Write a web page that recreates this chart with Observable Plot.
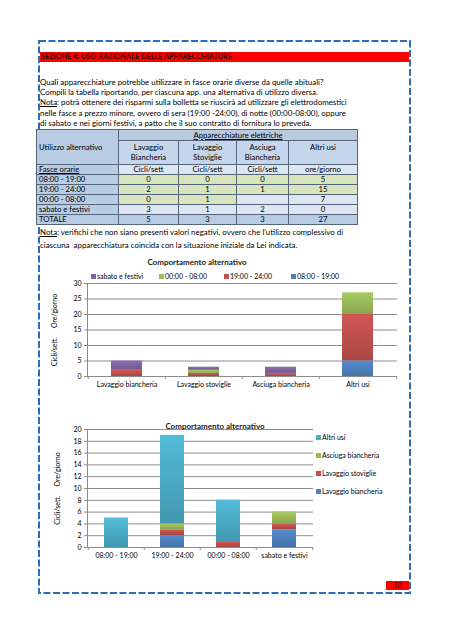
<!DOCTYPE html>
<html><head><meta charset="utf-8">
<script src="https://cdn.jsdelivr.net/npm/d3@7"></script>
<script src="https://cdn.jsdelivr.net/npm/@observablehq/plot@0.6"></script>
<style>
body{margin:0;background:#fff;width:453px;height:638px;position:relative;overflow:hidden;font-family:Lato,"Open Sans",sans-serif;color:#000}
.abs{position:absolute;white-space:nowrap}
.t{font-size:7.9px;line-height:10px}
table.tb{position:absolute;left:36px;top:129px;width:321px;border-collapse:collapse;table-layout:fixed;font-size:7.7px;border:1.5px solid #3a78c2}
table.tb td{border:1px solid #55657a;padding:0 2px;height:9px;line-height:9px;text-align:center;white-space:nowrap;overflow:hidden}
table.tb td.l{text-align:left}
.ttl{font-size:8px;font-weight:bold;color:#222}
.lg{font-size:7px;line-height:8px;display:flex;align-items:center}
.lg i{display:inline-block;width:5px;height:5px;margin-right:1px}
</style></head>
<body>
<svg class="abs" style="left:0;top:0" width="453" height="638">
<rect x="39" y="41" width="371" height="552" fill="none" stroke="#2e6db4" stroke-width="2" stroke-dasharray="7,2.5"/>
</svg>
<div class="abs" style="left:40px;top:52px;width:369px;height:10px;background:#ff0000"></div>
<div class="abs" style="left:41px;top:52px;font-size:7.3px;line-height:10px;font-weight:bold;color:#3b0000">SEZIONE 4: USO RAZIONALE DELLE APPARECCHIATURE</div>
<div class="abs t" style="left:40px;top:77px">Quali apparecchiature potrebbe utilizzare in fasce orarie diverse da quelle abituali?</div>
<div class="abs t" style="left:40px;top:87px">Compili la tabella riportando, per ciascuna app. una alternativa di utilizzo diversa.</div>
<div class="abs t" style="left:40px;top:97px"><u>Nota</u>: potrà ottenere dei risparmi sulla bolletta se riuscirà ad utilizzare gli elettrodomestici</div>
<div class="abs t" style="left:40px;top:108px">nelle fasce a prezzo minore, ovvero di sera (19:00 -24:00), di notte (00:00-08:00), oppure</div>
<div class="abs t" style="left:40px;top:118px">di sabato e nei giorni festivi, a patto che il suo contratto di fornitura lo preveda.</div>
<div id="tablewrap"></div>
<div class="abs t" style="left:40px;top:227px"><u>Nota</u>: verifichi che non siano presenti valori negativi, ovvero che l'utilizzo complessivo di</div>
<div class="abs t" style="left:40px;top:240px">ciascuna&nbsp; apparecchiatura coincida con la situazione iniziale da Lei indicata.</div>

<div class="abs ttl" style="left:197px;top:257px;transform:translateX(-50%)">Comportamento alternativo</div>
<div id="leg1"></div>
<div id="c1" class="abs" style="left:40px;top:255px"></div>

<div id="c2" class="abs" style="left:40px;top:420px"></div>
<div class="abs ttl" style="left:215px;top:421px;transform:translateX(-50%)">Comportamento alternativo</div>
<div id="leg2"></div>

<div class="abs" style="left:386px;top:581px;width:23px;height:9px;background:#ff0000;font-size:7px;line-height:9px;text-align:center;color:#400">10</div>

<script>
// ---- data ----
const appliances = ["Lavaggio biancheria", "Lavaggio stoviglie", "Asciuga biancheria", "Altri usi"];
const applianceHeaders = ["Lavaggio<br>Biancheria", "Lavaggio<br>Stoviglie", "Asciuga<br>Biancheria", "Altri usi"];
const units = ["Cicli/sett", "Cicli/sett", "Cicli/sett", "ore/giorno"];
const slots = ["08:00 - 19:00", "19:00 - 24:00", "00:00 - 08:00", "sabato e festivi"];
// values per time slot (same order as slots)
const lavaggioBiancheria = [0, 2, 0, 3];
const lavaggioStoviglie = [0, 1, 1, 1];
const asciugaBiancheria = [0, 1, null, 2];
const altriUsi = [5, 15, 7, 0];
const totals = [5, 3, 3, 27];
const yTicks1 = [0, 5, 10, 15, 20, 25, 30];
const yTicks2 = [0, 2, 4, 6, 8, 10, 12, 14, 16, 18, 20];
const slotColors = ["#4f81bd", "#c0504d", "#9bbb59", "#8064a2"];
const applianceColors = ["#4f81bd", "#c0504d", "#9bbb59", "#4bacc6"];
const yTitle = "Cicli/sett.\u00a0\u00a0\u00a0\u00a0\u00a0Ore/giorno";

const series = [lavaggioBiancheria, lavaggioStoviglie, asciugaBiancheria, altriUsi];

// ---- table ----
const olive = "#d7e4bd", light = "#dce6f1", mid = "#b8cce4";
const cellBg = (r, c) => (r < 2 ? olive : r === 2 ? (c < 2 ? olive : light) : light);
let h = `<table class="tb"><colgroup><col style="width:82px"><col style="width:60px"><col style="width:58px"><col style="width:52px"><col style="width:69px"></colgroup>`;
h += `<tr style="height:11px"><td class="l" rowspan="2" style="background:${mid}">Utilizzo alternativo</td><td colspan="4" style="background:#b9c9de"><u>Apparecchiature elettriche</u></td></tr>`;
h += `<tr style="height:23px">` + applianceHeaders.map(a => `<td style="background:#c5d6ec;line-height:10px;height:22px;vertical-align:top;padding-top:1px">${a}</td>`).join("") + `</tr>`;
h += `<tr><td class="l" style="background:${mid}"><u>Fasce orarie</u></td>` + units.map(u => `<td style="background:${light}">${u}</td>`).join("") + `</tr>`;
slots.forEach((s, r) => {
  h += `<tr><td class="l" style="background:${mid}">${s}</td>` +
    series.map((arr, c) => `<td style="background:${cellBg(r, c)}">${arr[r] == null ? "" : arr[r]}</td>`).join("") + `</tr>`;
});
h += `<tr><td class="l" style="background:${mid}">TOTALE</td>` + totals.map(t => `<td style="background:${mid}">${t}</td>`).join("") + `</tr></table>`;
document.getElementById("tablewrap").innerHTML = h;

// ---- gradients ----
function addGradients(svg, colors, prefix) {
  const ns = "http://www.w3.org/2000/svg";
  const defs = document.createElementNS(ns, "defs");
  colors.forEach((c, i) => {
    const g = document.createElementNS(ns, "linearGradient");
    g.setAttribute("id", prefix + i);
    g.setAttribute("x1", "0"); g.setAttribute("y1", "0"); g.setAttribute("x2", "0"); g.setAttribute("y2", "1");
    [[0, d3.color(c).brighter(0.25)], [1, d3.color(c).darker(0.35)]].forEach(([o, col]) => {
      const s = document.createElementNS(ns, "stop");
      s.setAttribute("offset", o); s.setAttribute("stop-color", col.formatHex());
      g.appendChild(s);
    });
    defs.appendChild(g);
  });
  svg.insertBefore(defs, svg.firstChild);
}
const fills1 = slotColors.map((c, i) => `url(#ga${i})`);
const fills2 = applianceColors.map((c, i) => `url(#gb${i})`);

const style = {fontFamily: "Lato, sans-serif", fontSize: "7px", color: "#000", background: "transparent", overflow: "visible"};
const gridColor = "#8c8c8c";

// ---- chart 1: by appliance, stacked by time slot ----
const data1 = appliances.flatMap((a, ai) => slots.map((s, si) => ({cat: a, series: s, value: series[ai][si] ?? 0})));
{
  const W = 365, ml = 47, mr = 8, n = appliances.length;
  const step = (W - ml - mr) / n;
  const p = Plot.plot({
    width: W, height: 140, marginLeft: ml, marginRight: mr, marginTop: 28, marginBottom: 19,
    style,
    x: {domain: appliances, paddingInner: 0.6, paddingOuter: 0.3, label: null},
    y: {domain: [0, 30], label: null},
    color: {domain: slots, range: fills1},
    marks: [
      Plot.gridY(yTicks1, {stroke: gridColor, strokeOpacity: 1}),
      Plot.barY(data1, {x: "cat", y: "value", fill: "series"}),
      Plot.ruleY([0], {stroke: gridColor}),
      Plot.frame({anchor: "left", stroke: gridColor}),
      Plot.axisY(yTicks1, {tickSize: 3, tickPadding: 3, stroke: gridColor, fill: "#000", label: yTitle, labelAnchor: "center", labelOffset: 35, labelArrow: "none"}),
      Plot.axisX({tickSize: 0, tickPadding: 6, fill: "#000"}),
      Plot.ruleX(appliances, {x: d => d, y1: 0, y2: 0, insetBottom: -3, dx: -step / 2, stroke: gridColor}),
      Plot.ruleX(appliances.slice(-1), {x: d => d, y1: 0, y2: 0, insetBottom: -3, dx: step / 2, stroke: gridColor})
    ]
  });
  addGradients(p, slotColors, "ga");
  document.getElementById("c1").appendChild(p);
}
// legend 1 (reverse order)
{
  const xs = [91, 159, 224, 291];
  const order = [3, 2, 1, 0];
  document.getElementById("leg1").innerHTML = order.map((si, k) =>
    `<div class="abs lg" style="left:${xs[k]}px;top:272px"><i style="background:${slotColors[si]}"></i>${slots[si]}</div>`).join("");
}

// ---- chart 2: by time slot, stacked by appliance ----
const data2 = slots.flatMap((s, si) => appliances.map((a, ai) => ({cat: s, series: a, value: series[ai][si] ?? 0})));
{
  const W = 275, ml = 47, mr = 2, n = slots.length;
  const step = (W - ml - mr) / n;
  const p = Plot.plot({
    width: W, height: 145, marginLeft: ml, marginRight: mr, marginTop: 9, marginBottom: 18,
    style,
    x: {domain: slots, paddingInner: 0.58, paddingOuter: 0.29, label: null},
    y: {domain: [0, 20], label: null},
    color: {domain: appliances, range: fills2},
    marks: [
      Plot.gridY(yTicks2, {stroke: gridColor, strokeOpacity: 1}),
      Plot.barY(data2, {x: "cat", y: "value", fill: "series"}),
      Plot.ruleY([0], {stroke: gridColor}),
      Plot.frame({anchor: "left", stroke: gridColor}),
      Plot.axisY(yTicks2, {tickSize: 3, tickPadding: 3, stroke: gridColor, fill: "#000", label: yTitle, labelAnchor: "center", labelOffset: 32, labelArrow: "none"}),
      Plot.axisX({tickSize: 0, tickPadding: 6, fill: "#000"}),
      Plot.ruleX(slots, {x: d => d, y1: 0, y2: 0, insetBottom: -3, dx: -step / 2, stroke: gridColor}),
      Plot.ruleX(slots.slice(-1), {x: d => d, y1: 0, y2: 0, insetBottom: -3, dx: step / 2, stroke: gridColor})
    ]
  });
  addGradients(p, applianceColors, "gb");
  document.getElementById("c2").appendChild(p);
}
// legend 2 (reverse order, vertical)
{
  const order = [3, 2, 1, 0];
  document.getElementById("leg2").innerHTML = order.map((ai, k) =>
    `<div class="abs lg" style="left:316px;top:${433 + k * 18}px"><i style="background:${applianceColors[ai]}"></i>${appliances[ai]}</div>`).join("");
}
</script>
</body></html>
